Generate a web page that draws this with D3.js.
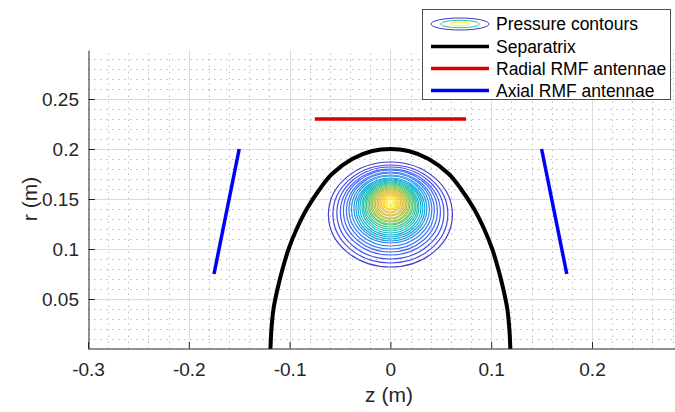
<!DOCTYPE html>
<html>
<head>
<meta charset="utf-8">
<script src="https://cdn.jsdelivr.net/npm/d3@7"></script>
<style>
  body { margin: 0; background: #fff; }
  text { font-family: "Liberation Sans", Arial, Helvetica, sans-serif; }
</style>
</head>
<body>
<svg width="675" height="412"></svg>
<script>
// axis ticks
var xTicks = [-0.3, -0.2, -0.1, 0, 0.1, 0.2];
var xTickLabels = ["-0.3", "-0.2", "-0.1", "0", "0.1", "0.2"];
var yTicks = [0.05, 0.1, 0.15, 0.2, 0.25];
var yTickLabels = ["0.05", "0.1", "0.15", "0.2", "0.25"];

// separatrix, left half (right half is the mirror)
var sepR = [0, 0.02, 0.04, 0.06, 0.08, 0.10, 0.12, 0.14, 0.16, 0.175, 0.19, 0.198, 0.2];
var sepZ = [-0.119, -0.118, -0.116, -0.112, -0.107, -0.101, -0.093, -0.083, -0.070, -0.058, -0.038, -0.018, 0];

// antennae
var radialZ = [-0.075, 0.075];
var radialR = [0.23, 0.23];
var axialLeftZ = [-0.15, -0.175];
var axialLeftR = [0.2, 0.075];
var axialRightZ = [0.15, 0.175];
var axialRightR = [0.2, 0.075];

// pressure contours, outermost first
var contourHalfWidth = [0.0615, 0.0570, 0.0531, 0.0496, 0.0466, 0.0437, 0.0412, 0.0387, 0.0362, 0.0342,
                        0.0322, 0.0303, 0.0283, 0.0268, 0.0253, 0.0238, 0.0223, 0.0208, 0.0193, 0.0179,
                        0.0164, 0.0149, 0.0134, 0.0119, 0.0104, 0.0089, 0.0074, 0.0060, 0.0045, 0.0030];
var contourTop = [0.187, 0.184, 0.182, 0.180, 0.179, 0.177, 0.176, 0.174, 0.173, 0.171,
                  0.170, 0.169, 0.168, 0.167, 0.166, 0.165, 0.164, 0.163, 0.162, 0.161,
                  0.160, 0.159, 0.158, 0.157, 0.156, 0.155, 0.154, 0.153, 0.151, 0.150];
var contourBottom = [0.082, 0.086, 0.090, 0.094, 0.097, 0.100, 0.103, 0.106, 0.108, 0.110,
                     0.112, 0.114, 0.116, 0.118, 0.120, 0.122, 0.124, 0.125, 0.127, 0.128,
                     0.130, 0.131, 0.133, 0.134, 0.136, 0.137, 0.139, 0.140, 0.142, 0.144];

var legendNames = ["Pressure contours", "Separatrix", "Radial RMF antennae", "Axial RMF antennae"];

var parula = ["#3e26a8", "#4748f1", "#3e6ffe", "#2797eb", "#08b5d0", "#27c4a5",
              "#70cb61", "#bbbe33", "#f0b93e", "#f8d52c", "#f9fb15"];
var parulaColor = d3.interpolateRgbBasis(parula);

var svg = d3.select("svg");
var x = d3.scaleLinear().domain([-0.3, 0.3]).range([88, 692.8]);
var y = d3.scaleLinear().domain([0, 0.299]).range([349, 50]);
var axisColor = "#262626";

// grid
var grid = svg.append("g");
var minorX = d3.range(-0.28, 0.3, 0.02).filter(function(v) { return Math.abs(Math.round(v * 10) - v * 10) > 1e-6; });
var minorY = d3.range(0.01, 0.299, 0.01).filter(function(v) { return Math.abs(Math.round(v * 20) - v * 20) > 1e-6; });

grid.selectAll(".mx").data(minorX).enter().append("line")
    .attr("x1", function(d) { return Math.round(x(d)) + 0.5; })
    .attr("x2", function(d) { return Math.round(x(d)) + 0.5; })
    .attr("y1", y(0)).attr("y2", y(0.299))
    .attr("stroke", "#bcbcbc").attr("stroke-width", 1).attr("stroke-dasharray", "1.5,4.5");
grid.selectAll(".my").data(minorY).enter().append("line")
    .attr("y1", function(d) { return Math.round(y(d)) + 0.5; })
    .attr("y2", function(d) { return Math.round(y(d)) + 0.5; })
    .attr("x1", x(-0.3)).attr("x2", 675)
    .attr("stroke", "#bcbcbc").attr("stroke-width", 1).attr("stroke-dasharray", "1.5,4.5");
grid.selectAll(".gx").data(xTicks.slice(1)).enter().append("line")
    .attr("x1", function(d) { return Math.round(x(d)) + 0.5; })
    .attr("x2", function(d) { return Math.round(x(d)) + 0.5; })
    .attr("y1", y(0)).attr("y2", y(0.299))
    .attr("stroke", "#dcdcdc").attr("stroke-width", 1);
grid.selectAll(".gy").data(yTicks).enter().append("line")
    .attr("y1", function(d) { return Math.round(y(d)) + 0.5; })
    .attr("y2", function(d) { return Math.round(y(d)) + 0.5; })
    .attr("x1", x(-0.3)).attr("x2", 675)
    .attr("stroke", "#dcdcdc").attr("stroke-width", 1);

// pressure contours
var n = contourHalfWidth.length;
svg.append("g").selectAll("ellipse")
    .data(d3.range(n))
    .enter().append("ellipse")
    .attr("cx", x(0))
    .attr("cy", function(i) { return y((contourTop[i] + contourBottom[i]) / 2); })
    .attr("rx", function(i) { return x(contourHalfWidth[i]) - x(0); })
    .attr("ry", function(i) { return (y(contourBottom[i]) - y(contourTop[i])) / 2; })
    .attr("fill", "none")
    .attr("stroke", function(i) { return parulaColor(0.06 + 0.91 * i / (n - 1)); })
    .attr("stroke-width", 1.2);

// separatrix
var sepPts = sepZ.map(function(z, i) { return [z, sepR[i]]; });
var mirror = sepZ.slice(0, -1).map(function(z, i) { return [-z, sepR[i]]; }).reverse();
sepPts = sepPts.concat(mirror);
var line = d3.line()
    .x(function(d) { return x(d[0]); })
    .y(function(d) { return y(d[1]); })
    .curve(d3.curveCatmullRom);
svg.append("path").datum(sepPts)
    .attr("d", line).attr("fill", "none")
    .attr("stroke", "#000").attr("stroke-width", 4);

// antennae
function seg(zs, rs) { return zs.map(function(z, i) { return [z, rs[i]]; }); }
var straight = d3.line().x(function(d) { return x(d[0]); }).y(function(d) { return y(d[1]); });
svg.append("path").datum(seg(radialZ, radialR)).attr("d", straight)
    .attr("stroke", "#d90000").attr("stroke-width", 3.5).attr("fill", "none");
[seg(axialLeftZ, axialLeftR), seg(axialRightZ, axialRightR)].forEach(function(s) {
  svg.append("path").datum(s).attr("d", straight)
      .attr("stroke", "#0000ff").attr("stroke-width", 3.5).attr("fill", "none");
});

// axes
var xAxis = d3.axisBottom(x).tickValues(xTicks)
    .tickFormat(function(d, i) { return xTickLabels[i]; })
    .tickSizeInner(-6.5).tickSizeOuter(0).tickPadding(14);
var yAxis = d3.axisLeft(y).tickValues(yTicks)
    .tickFormat(function(d, i) { return yTickLabels[i]; })
    .tickSizeInner(-6.5).tickSizeOuter(0).tickPadding(9.5);

var gx = svg.append("g").attr("transform", "translate(0," + 348.5 + ")").call(xAxis);
var gy = svg.append("g").attr("transform", "translate(" + 88.5 + ",0)").call(yAxis);
[gx, gy].forEach(function(g) {
  g.attr("font-family", null).attr("font-size", null);
  g.selectAll("path,line").attr("stroke", axisColor);
  g.selectAll("text").attr("fill", axisColor).style("font-size", "19px");
});

svg.append("text").attr("x", 389).attr("y", 402)
    .attr("text-anchor", "middle").attr("fill", axisColor)
    .style("font-size", "21px").text("z (m)");
svg.append("text").attr("transform", "translate(37,199) rotate(-90)")
    .attr("text-anchor", "middle").attr("fill", axisColor)
    .style("font-size", "21px").text("r (m)");

// legend
var lg = svg.append("g");
lg.append("rect").attr("x", 422.5).attr("y", 9.5).attr("width", 248).attr("height", 90)
    .attr("fill", "#fff").attr("stroke", axisColor).attr("stroke-width", 0.8);
var rowY = [24, 46.5, 68.5, 90.5];
var iconX0 = 431, iconX1 = 489;
var cx = (iconX0 + iconX1) / 2;
lg.append("ellipse").attr("cx", cx).attr("cy", rowY[0]).attr("rx", 29).attr("ry", 6)
    .attr("fill", "none").attr("stroke", parulaColor(0.05));
lg.append("ellipse").attr("cx", cx).attr("cy", rowY[0]).attr("rx", 19.5).attr("ry", 3.8)
    .attr("fill", "none").attr("stroke", parulaColor(0.5));
lg.append("ellipse").attr("cx", cx).attr("cy", rowY[0]).attr("rx", 9.5).attr("ry", 2)
    .attr("fill", "none").attr("stroke", parulaColor(0.97));
var legendColors = [null, "#000", "#d90000", "#0000ff"];
[1, 2, 3].forEach(function(i) {
  lg.append("line").attr("x1", iconX0).attr("x2", iconX1)
      .attr("y1", rowY[i]).attr("y2", rowY[i])
      .attr("stroke", legendColors[i]).attr("stroke-width", 3.5);
});
legendNames.forEach(function(name, i) {
  lg.append("text").attr("x", 496).attr("y", rowY[i] + 6.3)
      .attr("fill", "#000").style("font-size", "17.5px").text(name);
});
</script>
</body>
</html>
